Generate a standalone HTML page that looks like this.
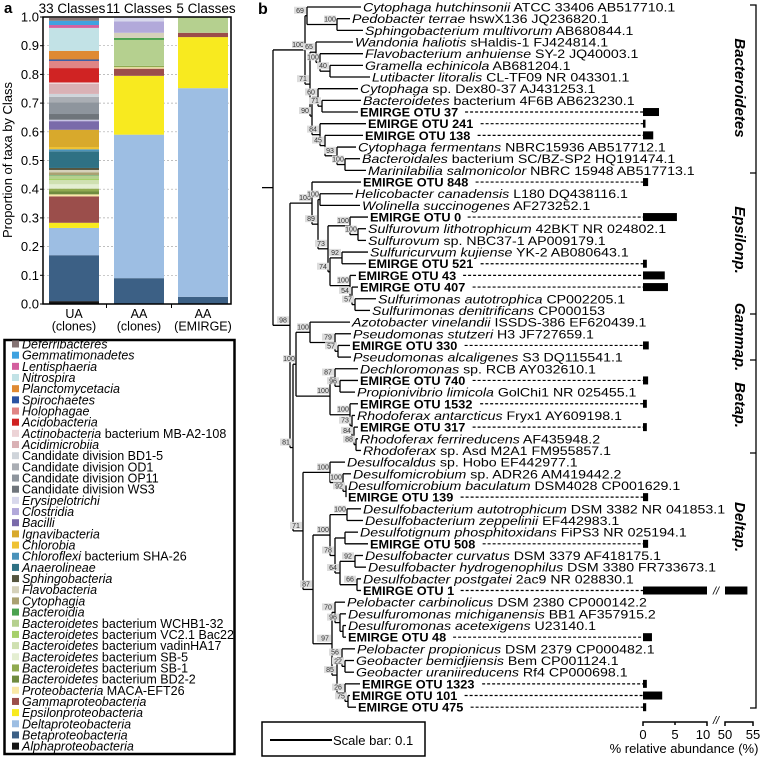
<!DOCTYPE html>
<html><head><meta charset="utf-8"><style>
html,body{margin:0;padding:0;background:#fff;}
svg{display:block;font-family:"Liberation Sans",sans-serif;}
</style></head><body>
<svg id="fig" width="763" height="758" viewBox="0 0 763 758" xmlns="http://www.w3.org/2000/svg">
<g id="pa"></g>
<g id="pb"></g>
</svg>
<script>
// ---------- Panel a data ----------
const classNames = ["Deferribacteres","Gemmatimonadetes","Lentisphaeria","Nitrospira","Planctomycetacia","Spirochaetes","Holophagae","Acidobacteria","Actinobacteria|bacterium MB-A2-108","Acidimicrobiia","#Candidate division BD1-5","#Candidate division OD1","#Candidate division OP11","#Candidate division WS3","Erysipelotrichi","Clostridia","Bacilli","Ignavibacteria","Chlorobia","Chloroflexi|bacterium SHA-26","Anaerolineae","Sphingobacteria","Flavobacteria","Cytophagia","Bacteroidia","Bacteroidetes|bacterium WCHB1-32","Bacteroidetes|bacterium VC2.1 Bac22","Bacteroidetes|bacterium vadinHA17","Bacteroidetes|bacterium SB-5","Bacteroidetes|bacterium SB-1","Bacteroidetes|bacterium BD2-2","Proteobacteria|MACA-EFT26","Gammaproteobacteria","Epsilonproteobacteria","Deltaproteobacteria","Betaproteobacteria","Alphaproteobacteria"];
const classColors = ["#857474","#3fa2e0","#d35f9e","#c2e2e6","#df8a33","#2a53a3","#e08585","#d02323","#ecd3d6","#d9b1b5","#cfd4da","#aaaeb4","#8e959d","#6f757b","#d8d8ec","#b2a9da","#7a6aaa","#d8a92c","#efc234","#4a92ba","#2f7184","#55553f","#d5d1ba","#aaa172","#4ba250","#b5d08f","#a6d06b","#cfe0b1","#e4eed2","#90aa50","#6f8b3f","#f9e8a6","#9b4e4b","#f8ea1f","#9dbee3","#3c6085","#151515"];
const sampleLabels = [["UA","(clones)"],["AA","(clones)"],["AA","(EMIRGE)"]];
const sampleTitles = ["33 Classes","11 Classes","5 Classes"];
const uaValues = [0.010,0.015,0.010,0.080,0.030,0.005,0.025,0.050,0.005,0.035,0.010,0.020,0.040,0.020,0.002,0.003,0.030,0.060,0.008,0.007,0.058,0.007,0.008,0.010,0.002,0.010,0.005,0.015,0.015,0.010,0.010,0.007,0.092,0.018,0.095,0.160,0.010];
const aaClonesValues = [0,0,0,0,0,0,0,0,0,0,0,0,0,0,0.015,0.040,0,0,0,0,0,0,0.018,0,0.007,0.090,0,0,0,0.005,0,0.005,0.025,0.205,0.500,0.090,0];
const aaEmirgeValues = [0,0,0,0,0,0,0,0,0,0,0,0,0,0,0,0,0,0,0,0,0,0,0,0,0,0.055,0,0,0,0,0,0,0.015,0.178,0.727,0.025,0];
const yTicks = ["0.0","0.1","0.2","0.3","0.4","0.5","0.6","0.7","0.8","0.9","1.0"];

// ---------- Panel b data ----------
const leafLabels = [
["Cytophaga hutchinsonii","ATCC 33406 AB517710.1"],["Pedobacter terrae","hswX136 JQ236820.1"],["Sphingobacterium multivorum","AB680844.1"],["Wandonia haliotis","sHaldis-1 FJ424814.1"],["Flavobacterium anhuiense","SY-2 JQ40003.1"],["Gramella echinicola","AB681204.1"],["Lutibacter litoralis","CL-TF09 NR 043301.1"],["Cytophaga","sp. Dex80-37 AJ431253.1"],["Bacteroidetes","bacterium 4F6B AB623230.1"],["OTU","37"],["OTU","241"],["OTU","138"],["Cytophaga fermentans","NBRC15936 AB517712.1"],["Bacteroidales","bacterium SC/BZ-SP2 HQ191474.1"],["Marinilabilia salmonicolor","NBRC 15948 AB517713.1"],
["OTU","848"],["Helicobacter canadensis","L180 DQ438116.1"],["Wolinella succinogenes","AF273252.1"],["OTU","0"],["Sulfurovum lithotrophicum","42BKT NR 024802.1"],["Sulfurovum","sp. NBC37-1 AP009179.1"],["Sulfuricurvum kujiense","YK-2 AB080643.1"],["OTU","521"],["OTU","43"],["OTU","407"],["Sulfurimonas autotrophica","CP002205.1"],["Sulfurimonas denitrificans","CP000153"],
["Azotobacter vinelandii","ISSDS-386 EF620439.1"],["Pseudomonas stutzeri","H3 JF727659.1"],["OTU","330"],["Pseudomonas alcaligenes","S3 DQ115541.1"],
["Dechloromonas","sp. RCB AY032610.1"],["OTU","740"],["Propionivibrio limicola","GolChi1 NR 025455.1"],["OTU","1532"],["Rhodoferax antarcticus","Fryx1 AY609198.1"],["OTU","317"],["Rhodoferax ferrireducens","AF435948.2"],["Rhodoferax","sp. Asd M2A1 FM955857.1"],
["Desulfocaldus","sp. Hobo EF442977.1"],["Desulfomicrobium","sp. ADR26 AM419442.2"],["Desulfomicrobium baculatum","DSM4028 CP001629.1"],["OTU","139"],["Desulfobacterium autotrophicum","DSM 3382 NR 041853.1"],["Desulfobacterium zeppelinii","EF442983.1"],["Desulfotignum phosphitoxidans","FiPS3 NR 025194.1"],["OTU","508"],["Desulfobacter curvatus","DSM 3379 AF418175.1"],["Desulfobacter hydrogenophilus","DSM 3380 FR733673.1"],["Desulfobacter postgatei","2ac9 NR 028830.1"],["OTU","1"],["Pelobacter carbinolicus","DSM 2380 CP000142.2"],["Desulfuromonas michiganensis","BB1 AF357915.2"],["Desulfuromonas acetexigens","U23140.1"],["OTU","48"],["Pelobacter propionicus","DSM 2379 CP000482.1"],["Geobacter bemidjiensis","Bem CP001124.1"],["Geobacter uraniireducens","Rf4 CP000698.1"],["OTU","1323"],["OTU","101"],["OTU","475"]];
const otuIds = ["37","241","138","848","0","521","43","407","330","740","1532","317","139","508","1","48","1323","101","475"];
const otuAbundance = [2.5,0.3,1.6,0.8,5.3,0.6,3.4,3.9,0.9,0.8,0.6,0.6,0.8,0.8,54,1.4,0.6,3.0,0.5];
const abundTicks = ["0","5","10","50","55"];
const leafX = [363,352,365,355,365,365,372,360,363,360,368,365,358,362,368,363,355,362,370,368,368,370,368,358,360,378,372,352,353,352,353,360,360,357,360,357,360,360,363,347,353,348,348,363,365,360,370,365,368,363,363,347,348,348,348,357,356,356,362,352,358];

const NS="http://www.w3.org/2000/svg";
function mk(tag,attrs,parent){const e=document.createElementNS(NS,tag);for(const k in attrs)e.setAttribute(k,attrs[k]);parent.appendChild(e);return e;}
function stretch(el,f){const w=el.getComputedTextLength();el.setAttribute('textLength',(w*f).toFixed(1));el.setAttribute('lengthAdjust','spacingAndGlyphs');}

// ---------- Panel a ----------
const pa=document.getElementById('pa');
const plotL=43,plotR=231,plotT=17,plotB=304;
function yA(v){return plotB-(plotB-plotT)*v;}
const barX=[49,114,178],barW=50;
const t=mk('text',{x:4,y:13,'font-size':15,'font-weight':'bold'},pa);t.textContent='a';


yTicks.forEach((lab,i)=>{const v=parseFloat(lab);const y=yA(v);
 if(i>0&&i<10){const g=mk('line',{x1:plotL,x2:plotR,y1:y,y2:y,stroke:'#aaa','stroke-dasharray':'2,2','stroke-width':0.7},pa);
 
 }
 const tk=mk('line',{x1:plotL-3,x2:plotL,y1:y,y2:y,stroke:'#000'},pa);
 
 
 const tx=mk('text',{x:plotL-4,y:y+4.5,'font-size':13,'text-anchor':'end'},pa);tx.textContent=lab;
 
 });
const yt=mk('text',{transform:'translate(12,160) rotate(-90)','font-size':13,'text-anchor':'middle'},pa);yt.textContent='Proportion of taxa by Class';


[uaValues,aaClonesValues,aaEmirgeValues].forEach((vals,s)=>{
 let cum=0;
 for(let i=vals.length-1;i>=0;i--){const v=vals[i];if(v<=0)continue;
  const r=mk('rect',{x:barX[s],width:barW,y:yA(cum+v),height:yA(cum)-yA(cum+v),fill:classColors[i]},pa);
  
  
  cum+=v;}
 const cx=barX[s]+barW/2+(s===0?-2:s===2?3:0);
 const ti=mk('text',{x:cx,y:13,'font-size':13.5,'text-anchor':'middle'},pa);ti.textContent=sampleTitles[s];
 
 
 sampleLabels[s].forEach((l,j)=>{const c=mk('text',{x:barX[s]+barW/2,y:318+j*12.5,'font-size':12.5,'text-anchor':'middle'},pa);c.textContent=l;
  
  });
 if(s<2){const tk=mk('line',{x1:barX[s]+barW+7.5,x2:barX[s]+barW+7.5,y1:plotB,y2:plotB+4,stroke:'#000'},pa);
  
  }
});
const fr=mk('path',{d:`M${plotL},${plotT}H${plotR}V${plotB}H${plotL}Z`,fill:'none',stroke:'#000','stroke-width':1.5},pa);


// legend
const lg=mk('g',{},pa);


const lb=mk('rect',{x:4.5,y:340,width:230,height:414,fill:'none',stroke:'#000','stroke-width':2.5},lg);


classNames.forEach((nm,i)=>{const y=344+i*11.17;
 const sw=mk('rect',{x:12,y:y-3.5,width:7,height:7,fill:classColors[i]},lg);
 
 
 const tx=mk('text',{x:22,y:y+4.5,'font-size':12.5},lg);
 
 
 if(nm[0]==='#'){tx.textContent=nm.slice(1);}
 else{const p=nm.split('|');const a=mk('tspan',{'font-style':'italic'},tx);a.textContent=p[0];
  if(p[1]){const b=mk('tspan',{},tx);b.textContent=' '+p[1];}}
});

// ---------- Panel b ----------
const pb=document.getElementById('pb');
const bl=mk('text',{x:258,y:14,'font-size':16,'font-weight':'bold'},pb);bl.textContent='b';


function leafY(i){return 7+i*11.67;}
function L(i){return {leaf:i};}
function N(x,b,c){return {x:x,b:b,c:c};}
const B=N(305,'100',[N(307,'69',[L(0),N(337,'100',[L(1),L(2)])]),N(310,'71',[N(316,'65',[L(3),N(320,'100',[L(4),N(330,'40',[L(5),L(6)])])]),N(312,'90',[N(318,'60',[L(7),N(322,'71',[L(8),L(9)])]),N(320,'84',[L(10),N(325,'45',[L(11),N(337,'93',[L(12),N(345,'100',[L(13),L(14)])])])])])])]);
const E=N(312,'100',[L(15),N(318,'89',[N(320,'100',[L(16),L(17)]),N(328,'73',[N(350,'100',[L(18),N(358,'100',[L(19),L(20)])]),N(330,'74',[N(342,'92',[L(21),L(22)]),N(350,'100',[L(23),N(352,'54',[L(24),N(355,'57',[L(25),L(26)])])])])])])]);
const G=N(310,'100',[L(27),N(335,'79',[L(28),N(338,'57',[L(29),L(30)])])]);
const Be=N(330,'100',[N(335,'87',[L(31),N(340,'96',[L(32),L(33)])]),N(350,'100',[L(34),N(352,'73',[L(35),N(354,'84',[L(36),N(356,'88',[L(37),L(38)])])])])]);
const D=N(303,'71',[N(330,'100',[L(39),N(343,'100',[L(40),N(346,'92',[L(41),L(42)])])]),N(313,'87',[N(330,'100',[N(347,'100',[L(43),L(44)]),N(335,'78',[N(345,'',[L(45),L(46)]),N(340,'64',[N(355,'92',[L(47),L(48)]),N(357,'66',[L(49),L(50)])])])]),N(330,'99',[N(332,'97',[N(335,'70',[L(51),N(340,'96',[L(52),N(343,'',[L(53),L(54)])])]),N(337,'85',[N(342,'56',[L(55),N(345,'22',[L(56),L(57)])]),N(345,'26',[L(58),N(348,'75',[L(59),L(60)])])])])])])]);
const root=N(273,'',[B,N(290,'98',[E,N(293,'81',[N(296,'100',[G,Be]),D])])]);
const tree=mk('g',{stroke:'#000','stroke-width':1.3,fill:'none'},pb);


const boot=mk('g',{},pb);
function layout(n){if(n.leaf!==undefined){n.y=leafY(n.leaf);n.ex=leafX[n.leaf]-2;return;}
 n.c.forEach(layout);n.y=(n.c[0].y+n.c[n.c.length-1].y)/2;}
layout(root);
function draw(n){if(n.leaf!==undefined)return;
 const v=mk('line',{x1:n.x,x2:n.x,y1:n.c[0].y,y2:n.c[n.c.length-1].y},tree);
 
 
 n.c.forEach(ch=>{const ex=ch.leaf!==undefined?ch.ex:ch.x;
  const h=mk('line',{x1:n.x,x2:ex,y1:ch.y,y2:ch.y},tree);
  
  
  if(ch.b){const bx=ch.leaf!==undefined?n.x:ch.x;
   const r=mk('rect',{x:bx-13,y:ch.y-9,width:12,height:7,fill:'#ddd'},boot);
   
   
   const tx=mk('text',{x:bx-7,y:ch.y-3,'font-size':7,'text-anchor':'middle',fill:'#333'},boot);tx.textContent=ch.b;
   
   }
  draw(ch);});}
draw(root);
mk('line',{x1:262,x2:273,y1:root.y,y2:root.y},tree);
// leaves + bars
const xAb0=643;
function xAb(v){return v<=10?xAb0+v*6.4:725+(v-50)*5.6;}
leafLabels.forEach((lb,i)=>{const y=leafY(i);
 const tx=mk('text',{x:leafX[i],y:y+4.5,'font-size':12},pb);
 if(lb[0]==='OTU'){tx.setAttribute('font-weight','bold');tx.textContent='EMIRGE OTU '+lb[1];
  
  
  stretch(tx,1.06);
  const w=tx.getComputedTextLength()*1.06;
  const dl=mk('line',{x1:leafX[i]+w+1,x2:xAb0,y1:y,y2:y,stroke:'#000','stroke-dasharray':'3,2','stroke-width':1.2},pb);
  
  
  const k=otuIds.indexOf(lb[1]);const v=otuAbundance[k];
  if(v<=10){const r=mk('rect',{x:xAb0,y:y-4,width:Math.max(2.5,xAb(v)-xAb0),height:8,fill:'#000'},pb);
   
   }
  else{const r=mk('rect',{x:xAb0,y:y-4,width:xAb(10)-xAb0,height:8,fill:'#000'},pb);
   
   
   const r2=mk('rect',{x:725,y:y-4,width:xAb(v)-725,height:8,fill:'#000'},pb);
   
   
   const s=mk('text',{x:716,y:y+4,'font-size':11,'text-anchor':'middle','font-style':'italic'},pb);s.textContent='//';
   
   }
 } else {
  
  
  const a=mk('tspan',{'font-style':'italic'},tx);a.textContent=lb[0];
  const b=mk('tspan',{},tx);b.textContent=' '+lb[1];
  stretch(tx,1.18);}
});
// abundance axis
const ax=mk('path',{d:`M${xAb(0)},726V722H${xAb(10)}V726M${xAb(5)},722V725M725,726V722H${xAb(55)}V726`,fill:'none',stroke:'#000','stroke-width':1.5},pb);


const brk=mk('text',{x:716,y:724,'font-size':11,'text-anchor':'middle','font-style':'italic'},pb);brk.textContent='//';
abundTicks.forEach(l=>{const v=parseFloat(l);const tx=mk('text',{x:xAb(v)-(l==='10'?4:0),y:739,'font-size':13,'text-anchor':'middle'},pb);tx.textContent=l;
 
 });
const at=mk('text',{x:684,y:753,'font-size':13,'text-anchor':'middle'},pb);at.textContent='% relative abundance (%)';


// scale bar
const sb=mk('rect',{x:262,y:722,width:163,height:34,fill:'none',stroke:'#000','stroke-width':1.5},pb);


mk('line',{x1:270,x2:332,y1:740,y2:740,stroke:'#000','stroke-width':2},pb);
const sbt=mk('text',{x:333,y:745,'font-size':13},pb);sbt.textContent='Scale bar: 0.1';


// clade bracket
const cb=[5,173,314,360,453,708];
let d=`M750,${cb[0]}H756V${cb[5]}H750`;for(let i=1;i<5;i++)d+=`M750,${cb[i]}H756`;
const br=mk('path',{d:d,fill:'none',stroke:'#000','stroke-width':1.3},pb);


const cladeNames=["Bacteroidetes","Epsilonp.","Gammap.","Betap.","Deltap."];
const cladeY=[88,240,337,405,527];
cladeNames.forEach((c,i)=>{const tx=mk('text',{transform:`translate(735,${cladeY[i]}) rotate(90)`,'font-size':15,'font-weight':'bold','font-style':'italic','text-anchor':'middle'},pb);tx.textContent=c;
 
 });
</script>
</body></html>
